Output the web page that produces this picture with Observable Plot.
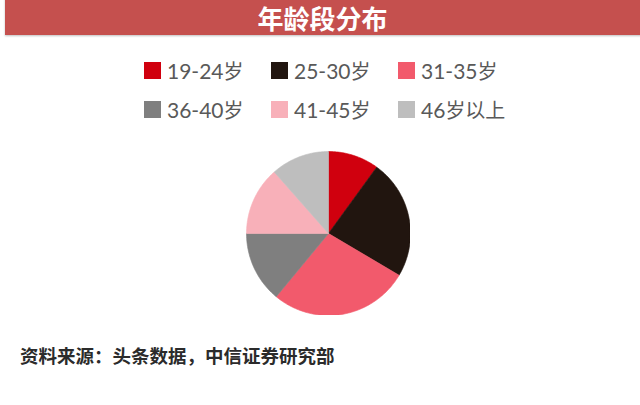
<!DOCTYPE html>
<html>
<head>
<meta charset="utf-8">
<script src="https://cdn.jsdelivr.net/npm/d3@7"></script>
<script src="https://cdn.jsdelivr.net/npm/@observablehq/plot@0.6"></script>
<style>
  html, body { margin: 0; padding: 0; background: #fff; }
  #root { position: relative; width: 640px; height: 405px; overflow: hidden; background: #fff;
          font-family: "Noto Sans CJK SC", "Noto Sans", sans-serif; }
  #header { position: absolute; left: 5px; top: -4px; width: 640px; height: 39px; background: #c5504e;
            box-shadow: 0 1px 2px rgba(0,0,0,0.25); }
  #title { position: absolute; left: 5px; top: 2px; width: 635px; height: 32px; line-height: 32px; text-align: center;
           color: #fff; font-weight: bold; font-size: 26px; }
  #legend { position: absolute; left: 144px; top: 58px; display: grid; grid-template-columns: 127px 127px 127px;
            row-gap: 15px; }
  .item { display: flex; align-items: center; height: 24px; font-family: "Lato", "Noto Sans CJK SC", sans-serif;
          font-size: 21px; color: #595959; white-space: nowrap; }
  .sw { width: 17px; height: 17px; margin-right: 6px; flex: none; }
  .item .cj { font-family: "Noto Sans CJK SC", sans-serif; font-size: 20px; }
  #pie { position: absolute; left: 246px; top: 151px; }
  #caption { position: absolute; left: 20px; top: 342px; font-size: 18.5px; font-weight: bold; color: #2b2b2b;
             font-family: "Noto Sans CJK SC", sans-serif; }
</style>
</head>
<body>
<div id="root">
  <div id="header"></div>
  <div id="title"></div>
  <div id="legend"></div>
  <div id="pie"></div>
  <div id="caption"></div>
</div>
<script>
const titleText = "年龄段分布";
const captionText = "资料来源：头条数据，中信证券研究部";
const categories = ["19-24岁", "25-30岁", "31-35岁", "36-40岁", "41-45岁", "46岁以上"];
const values = [10, 23.5, 27.5, 14, 13.5, 11.5];
const colors = ["#d0000e", "#21150f", "#f25a6c", "#7f7f7f", "#f8b0b9", "#bebebe"];

document.getElementById("title").textContent = titleText;
document.getElementById("caption").textContent = captionText;

// Legend
const legend = document.getElementById("legend");
categories.forEach((c, i) => {
  const item = document.createElement("div");
  item.className = "item";
  const sw = document.createElement("span");
  sw.className = "sw";
  sw.style.background = colors[i];
  item.appendChild(sw);
  const m = c.match(/^([0-9\-]+)(.*)$/);
  const a = document.createElement("span");
  a.textContent = m[1];
  const b = document.createElement("span");
  b.className = "cj";
  b.textContent = m[2];
  item.appendChild(a);
  item.appendChild(b);
  legend.appendChild(item);
});

// Pie slices as filled polygons in data space
const arcs = d3.pie().sort(null).value(d => d)(values);
const pts = [];
arcs.forEach((a, i) => {
  const cat = categories[i];
  pts.push({cat, x: 0, y: 0});
  const n = Math.max(2, Math.ceil((a.endAngle - a.startAngle) / 0.02));
  for (let k = 0; k <= n; k++) {
    const t = a.startAngle + (a.endAngle - a.startAngle) * k / n;
    pts.push({cat, x: Math.sin(t), y: Math.cos(t)});
  }
  pts.push({cat, x: 0, y: 0});
});

const size = 164;
const chart = Plot.plot({
  width: size, height: size,
  margin: 0,
  x: {domain: [-1, 1], axis: null},
  y: {domain: [-1, 1], axis: null},
  color: {domain: categories, range: colors},
  style: {background: "transparent"},
  marks: [
    Plot.line(pts, {x: "x", y: "y", z: "cat", fill: "cat", stroke: "cat", strokeWidth: 0.6, curve: "linear"})
  ]
});
document.getElementById("pie").appendChild(chart);
</script>
</body>
</html>
